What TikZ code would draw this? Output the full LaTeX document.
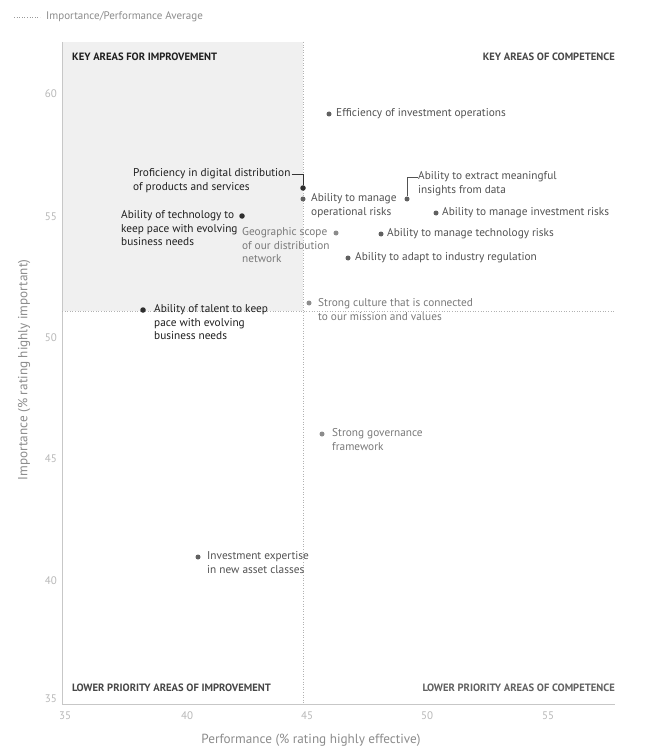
\documentclass[tikz,border=0pt]{standalone}
\usepackage{fontspec}
\setmainfont{PT Sans}
\begin{document}
\begin{tikzpicture}[x=1pt,y=-1pt,
  lbl/.style={inner sep=0pt,anchor=north west,align=left,font=\fontsize{11.3}{13.8}\selectfont},
  dk/.style={lbl,text=black!88},
  md/.style={lbl,text=black!68},
  lt/.style={lbl,text=black!52},
  quad/.style={inner sep=0pt,font=\bfseries\fontsize{10.6}{12}\selectfont},
  tick/.style={inner sep=0pt,text=black!28,font=\fontsize{11}{13}\selectfont},
  axl/.style={inner sep=0pt,text=black!45,font=\fontsize{13.2}{15}\selectfont},
  dotdk/.style={circle,fill=black!82,inner sep=0pt,minimum size=5.5pt},
  dotmd/.style={circle,fill=black!62,inner sep=0pt,minimum size=5pt},
  dotlt/.style={circle,fill=black!45,inner sep=0pt,minimum size=5pt},
  avg/.style={black!30,dotted,line width=0.6pt},
  conn/.style={black!80,line width=0.8pt}]
\useasboundingbox (0,0) rectangle (651,746);
\fill[white] (0,0) rectangle (651,746);
% shaded quadrant
\fill[black!6] (62,42) rectangle (303,311);
% axes
\draw[black!22,line width=0.8pt] (62,42) -- (62,704) -- (615,704);
% average lines
\draw[avg] (303,42) -- (303,704);
\draw[avg] (62,311) -- (615,311);
% legend
\coordinate (lg1) at (14,17);
\coordinate (lg2) at (40,17);
\draw[black!40,dotted,line width=0.6pt] (lg1) -- (lg2);
\node[inner sep=0pt,anchor=west,text=black!45,font=\fontsize{11}{13}\selectfont] (legend) at (46,17) {Importance/Performance Average};
% quadrant labels
\node[quad,anchor=west,text=black!88] (q1) at (72,57) {KEY AREAS FOR IMPROVEMENT};
\node[quad,anchor=east,text=black!72] (q2) at (615,57) {KEY AREAS OF COMPETENCE};
\node[quad,anchor=west,text=black!72] (q3) at (72,688) {LOWER PRIORITY AREAS OF IMPROVEMENT};
\node[quad,anchor=east,text=black!62] (q4) at (615,688) {LOWER PRIORITY AREAS OF COMPETENCE};
% ticks
\node[tick,anchor=east] (y60) at (57,94) {60};
\node[tick,anchor=east] (y55) at (57,217) {55};
\node[tick,anchor=east] (y50) at (57,338) {50};
\node[tick,anchor=east] (y45) at (57,459) {45};
\node[tick,anchor=east] (y40) at (57,581) {40};
\node[tick,anchor=east] (y35) at (57,699) {35};
\node[tick] (x35) at (65,716) {35};
\node[tick] (x40) at (187,716) {40};
\node[tick] (x45) at (307,716) {45};
\node[tick] (x50) at (427,716) {50};
\node[tick] (x55) at (548,716) {55};
% axis labels
\node[axl] (xlab) at (311,740) {Performance (\% rating highly effective)};
\node[axl,rotate=90] (ylab) at (24,370) {Importance (\% rating highly important)};
% data points
\node[dotmd] (d1) at (329,114) {};
\node[md] (t1) at (336,108) {Efficiency of investment operations};

\node[dotdk] (d2) at (303,188) {};
\node[dk] (t2) at (133,168) {Proficiency in digital distribution\\of products and services};
\coordinate (c2) at (303,174);
\draw[conn] (t2.north east |- c2) ++(1,0) -- (c2) -- (d2);

\node[dotmd] (d3) at (303,199) {};
\node[md] (t3) at (311,193) {Ability to manage\\operational risks};

\node[dotmd] (d4) at (407,199) {};
\node[md] (t4) at (418,171) {Ability to extract meaningful\\insights from data};
\coordinate (c4) at (407,177);
\draw[black!68,line width=0.8pt] (d4) -- (c4) -- (t4.west |- c4);

\node[dotmd] (d5) at (436,213) {};
\node[md] (t5) at (442,207) {Ability to manage investment risks};

\node[dotdk] (d6) at (242,216) {};
\node[dk] (t6) at (121,210) {Ability of technology to\\keep pace with evolving\\business needs};

\node[dotlt] (d7) at (336,233) {};
\node[lt] (t7) at (242,227) {Geographic scope\\of our distribution\\network};

\node[dotmd] (d8) at (381,234) {};
\node[md] (t8) at (387,228) {Ability to manage technology risks};

\node[dotmd] (d9) at (348,258) {};
\node[md] (t9) at (355,252) {Ability to adapt to industry regulation};

\node[dotdk] (d10) at (143,310) {};
\node[dk] (t10) at (154,304) {Ability of talent to keep\\pace with evolving\\business needs};

\node[dotlt] (d11) at (309,303) {};
\node[lt] (t11) at (318,298) {Strong culture that is connected\\to our mission and values};

\node[dotlt] (d12) at (322,434) {};
\node[lt] (t12) at (332,428) {Strong governance\\framework};

\node[dotmd] (d13) at (198,557) {};
\node[md] (t13) at (207,551) {Investment expertise\\in new asset classes};
\end{tikzpicture}
\end{document}
